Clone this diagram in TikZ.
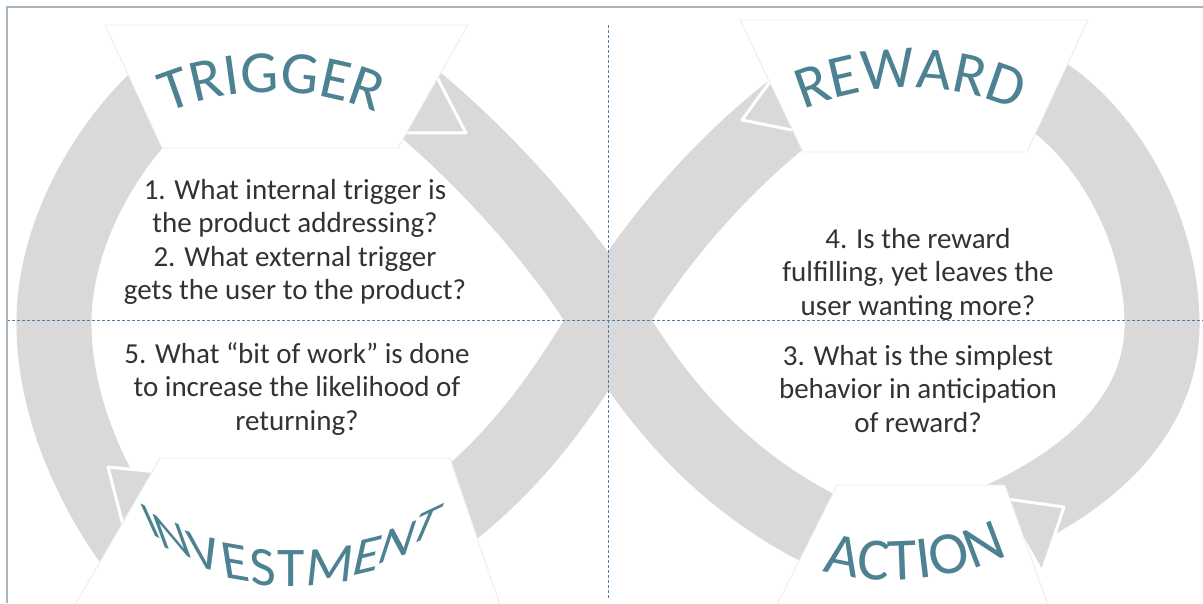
\documentclass[tikz,border=0pt]{standalone}
\usepackage{fontspec}
\setmainfont{Carlito}
\newfontfamily\cuefont{Carlito}
\usetikzlibrary{decorations.text}
\definecolor{bandgray}{RGB}{217,217,217}
\definecolor{cueteal}{RGB}{76,130,145}
\definecolor{guide}{RGB}{84,122,168}
\definecolor{framegray}{RGB}{165,180,190}
\definecolor{qtext}{RGB}{50,50,50}
\newcommand\bigcue{\cuefont\fontsize{60}{60}\selectfont\color{cueteal}}
\tikzset{
    every node/.style={color=qtext, font=\fontsize{29}{33.5}\selectfont},
}

\begin{document}
\begin{tikzpicture}[
        x=1pt, y=1pt,
        band/.style={draw=bandgray, line width=75pt},
        headtri/.style={fill=bandgray, draw=white, line width=3pt, line join=round},
        cardbox/.style={fill=white, draw=black!8, line width=0.8pt},
        question/.style={align=center, inner sep=0pt},
        cue/.style={color=cueteal, font=\cuefont\fontsize{56}{56}\selectfont, inner sep=0pt},
        guideline/.style={draw=guide, line width=0.9pt, dash pattern=on 3pt off 2pt}
    ]
    \useasboundingbox (0,0) rectangle (1203,603);

    % Loop bands
    \path[band] (165,511) .. controls (110,463) and (55,373) .. (54,283)
        .. controls (53,200) and (90,120) .. (130,63);
    \path[band] (1035,515) .. controls (1100,478) and (1160,383) .. (1162,283)
        .. controls (1164,203) and (1110,133) .. (1000,83);
    \path[band] (415,503) .. controls (510,423) and (575,338) .. (608,283)
        .. controls (648,215) and (720,113) .. (855,58);
    \path[band] (805,503) .. controls (705,428) and (641,338) .. (608,283)
        .. controls (566,213) and (520,143) .. (440,83);

    % Arrow heads
    \path[headtri] (400,470) -- (466,470) -- (428,543) -- cycle;
    \path[headtri] (742,483) -- (777,531) -- (812,469) -- cycle;
    \path[headtri] (1000,105) -- (1064,96) -- (1042,31) -- cycle;
    \path[headtri] (108,136) -- (168,130) -- (125,70) -- cycle;

    % Label cards
    \path[cardbox] (105,578) -- (468,578) -- (398,455) -- (162,455) -- cycle;
    \path[cardbox] (740,583) -- (1088,583) -- (1027,451) -- (803,451) -- cycle;
    \path[cardbox] (837,118) -- (1005,118) -- (1048,-2) -- (777,-2) -- cycle;
    \path[cardbox] (160,145) -- (450,145) -- (500,-2) -- (75,-2) -- cycle;

    % Guides and frame
    \path[guideline] (7,283) -- (1203,283);
    \path[guideline] (608,578) -- (608,5);
    \draw[framegray, line width=1.2pt] (7,0) -- (7,596) -- (1203,596);

    % Stage names
    \path[decorate, decoration={text along path, text align=center, text={|\bigcue|TRIGGER}}]
        (272,238) ++(130:273pt) arc[start angle=130, end angle=50, radius=273pt];
    \path[decorate, decoration={text along path, text align=center, text={|\bigcue|REWARD}}]
        (910,242) ++(130:273pt) arc[start angle=130, end angle=50, radius=273pt];
    \path[decorate, decoration={text along path, text align=center, text={|\bigcue|ACTION}}]
        (893,297) ++(245:274pt) arc[start angle=245, end angle=305, radius=274pt];
    % warped letters of the lower left name
    \foreach \ch/\a [count=\i] in {I/229.5,N/236.6,V/246.4,E/255.0,S/262.5,T/269.9,M/280.4,E/290.9,N/299.8,T/308.6} {
        \pgfmathsetmacro\px{291+205*cos(\a)}
        \pgfmathsetmacro\py{221+205*sin(\a)}
        \pgfmathsetmacro\ux{cos((\a-270)*0.65)}
        \pgfmathsetmacro\uy{sin((\a-270)*0.65)}
        \pgfmathsetmacro\vx{cos(90+(270-\a)*0.6)}
        \pgfmathsetmacro\vy{sin(90+(270-\a)*0.6)}
        \begin{scope}[shift={(\px,\py)}, cm={\ux,\uy,\vx,\vy,(0,0)}]
            \node[cue, anchor=base, transform shape] (invest\i) at (0,0) {\ch};
        \end{scope}
    }

    % Questions
    \node[question] (trigger q) at (295,361) {1. What internal trigger is\\the product addressing?\\2. What external trigger\\gets the user to the product?};
    \node[question] (invest q) at (297,214) {5. What “bit of work” is done\\to increase the likelihood of\\returning?};
    \node[question] (reward q) at (918,329) {4. Is the reward\\fulfilling, yet leaves the\\user wanting more?};
    \node[question] (action q) at (918,214) {3. What is the simplest\\behavior in anticipation\\of reward?};
\end{tikzpicture}
\end{document}
